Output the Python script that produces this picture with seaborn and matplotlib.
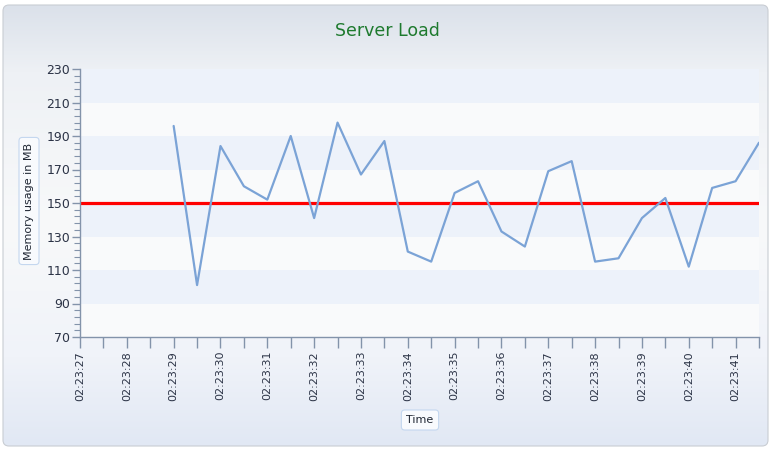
import numpy as np
import pandas as pd
import matplotlib
matplotlib.use("Agg")
import matplotlib.pyplot as plt
from matplotlib.patches import FancyBboxPatch
from matplotlib.colors import LinearSegmentedColormap
from matplotlib.ticker import MultipleLocator, FixedLocator, FixedFormatter
import seaborn as sns

# samples (time of day, memory in MB)
sample_times = ["02:23:29.0", "02:23:29.5", "02:23:30.0", "02:23:30.5", "02:23:31.0",
                "02:23:31.5", "02:23:32.0", "02:23:32.5", "02:23:33.0", "02:23:33.5",
                "02:23:34.0", "02:23:34.5", "02:23:35.0", "02:23:35.5", "02:23:36.0",
                "02:23:36.5", "02:23:37.0", "02:23:37.5", "02:23:38.0", "02:23:38.5",
                "02:23:39.0", "02:23:39.5", "02:23:40.0", "02:23:40.5", "02:23:41.0",
                "02:23:41.5"]
memory_mb = [196, 101, 184, 160, 152, 190, 141, 198, 167, 187, 121, 115, 156,
             163, 133, 124, 169, 175, 115, 117, 141, 153, 112, 159, 163, 186]
threshold = 150
y_ticks = [70, 90, 110, 130, 150, 170, 190, 210, 230]
tick_labels = ["02:23:27", "02:23:28", "02:23:29", "02:23:30", "02:23:31",
               "02:23:32", "02:23:33", "02:23:34", "02:23:35", "02:23:36",
               "02:23:37", "02:23:38", "02:23:39", "02:23:40", "02:23:41"]


def to_seconds(s):
    h, m, sec = s.split(":")
    return int(h) * 3600 + int(m) * 60 + float(sec)


base = to_seconds(tick_labels[0])
df = pd.DataFrame({"t": [to_seconds(s) - base for s in sample_times], "mem": memory_mb})
tick_pos = [to_seconds(s) - base for s in tick_labels]

sns.set_style("white")
fig = plt.figure(figsize=(7.74, 4.54), dpi=100)
fig.patch.set_facecolor("white")

# card background with vertical gradient
bg = fig.add_axes([0, 0, 1, 1])
bg.set_xlim(0, 774)
bg.set_ylim(454, 0)
bg.axis("off")
cmap = LinearSegmentedColormap.from_list(
    "card", [(0, "#dbe1ea"), (0.15, "#eef1f5"), (0.5, "#f8f9fa"), (0.8, "#f0f3f9"), (1, "#e1e8f4")])
card = FancyBboxPatch((3, 5), 765, 441, boxstyle="round,pad=0,rounding_size=6",
                      fc="none", ec="#c9cdd3", lw=0.8)
bg.add_patch(card)
im = bg.imshow(np.linspace(0, 1, 256).reshape(-1, 1), cmap=cmap, aspect="auto",
               extent=(3, 768, 446, 5))
im.set_clip_path(card)

ax = fig.add_axes([80 / 774, 1 - 337 / 454, (759 - 80) / 774, (337 - 69) / 454])
ax.set_facecolor("#f9fafb")
for i, lo in enumerate(y_ticks[:-1]):
    if i % 2 == 1:
        ax.axhspan(lo, lo + 20, color="#edf2fa", lw=0, zorder=0)

ax.axhline(threshold, color="#ff0000", lw=2.3, zorder=2)
sns.lineplot(data=df, x="t", y="mem", ax=ax, color="#7ba3d6", lw=1.6, zorder=3)

ax.set_xlim(0, 14.5)
ax.set_ylim(70, 230)
ax.yaxis.set_major_locator(FixedLocator(y_ticks))
ax.yaxis.set_minor_locator(MultipleLocator(4, offset=2))
ax.xaxis.set_major_locator(FixedLocator(tick_pos))
ax.xaxis.set_major_formatter(FixedFormatter(tick_labels))
ax.xaxis.set_minor_locator(MultipleLocator(0.5))

spine_c = "#8393aa"
for s in ["top", "right"]:
    ax.spines[s].set_visible(False)
for s in ["left", "bottom"]:
    ax.spines[s].set_color(spine_c)
    ax.spines[s].set_linewidth(1)

ax.tick_params(axis="y", which="major", length=6, width=1, color=spine_c,
               labelsize=9, labelcolor="#2b3346", pad=1, left=True)
ax.tick_params(axis="y", which="minor", length=4, width=0.8, color=spine_c, left=True)
ax.tick_params(axis="x", which="both", length=8, width=1, color=spine_c, bottom=True,
               labelsize=8, labelcolor="#2b3346", labelrotation=90, pad=2)
ax.set_xlabel("")
ax.set_ylabel("")

fig.text(387 / 774, 1 - 31 / 454, "Server Load", color="#1e7a2e", fontsize=12.5,
         ha="center", va="center")
fig.text(29 / 774, 1 - 201 / 454, "Memory usage in MB", rotation=90, fontsize=8,
         color="#1f2633", ha="center", va="center",
         bbox=dict(boxstyle="round,pad=0.45,rounding_size=0.3", fc="#f8fafd", ec="#c4d7ef", lw=0.8))
fig.text(420 / 774, 1 - 420 / 454, "Time", fontsize=8, color="#1f2633",
         ha="center", va="center",
         bbox=dict(boxstyle="round,pad=0.45,rounding_size=0.3", fc="#f8fafd", ec="#c4d7ef", lw=0.8))

fig.savefig("out.png", dpi=100)
